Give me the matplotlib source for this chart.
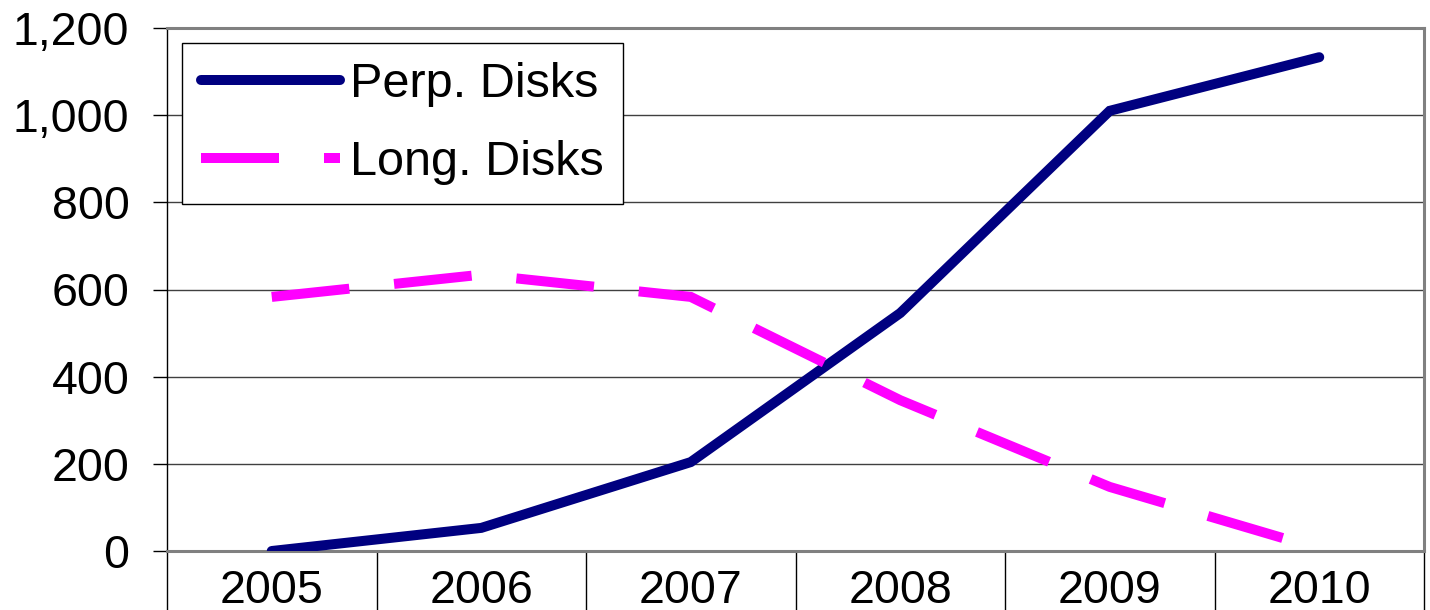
import matplotlib
matplotlib.use('Agg')
from matplotlib import pyplot as plt
from matplotlib.ticker import FixedLocator, FuncFormatter

# data
years = ['2005', '2006', '2007', '2008', '2009', '2010']
perp_disks = [0, 53, 204, 546, 1010, 1133]
long_disks = [583, 634, 583, 346, 147, 5]
y_ticks = [0, 200, 400, 600, 800, 1000, 1200]

plt.rcParams['font.family'] = ['Liberation Sans', 'DejaVu Sans']

fig = plt.figure(figsize=(14.3, 6.1), dpi=100)
# plot area in pixels: left 167, right 1424, top 28, bottom 551
ax = fig.add_axes([167 / 1430, (610 - 551) / 610, (1424 - 167) / 1430, (551 - 28) / 610])

x = list(range(1, len(years) + 1))
ax.plot(x, perp_disks, color='#000080', lw=7.2, solid_capstyle='round',
        solid_joinstyle='miter', label='Perp. Disks', zorder=3)
ax.plot(x, long_disks, color='#FF00FF', lw=7.2, dashes=(7.8, 4.5),
        dash_capstyle='butt', dash_joinstyle='miter', label='Long. Disks', zorder=3)

ax.set_xlim(0.5, len(years) + 0.5)
ax.set_ylim(0, 1200)

# category axis: labels centred, separator ticks between categories
ax.xaxis.set_major_locator(FixedLocator(x))
ax.set_xticklabels(years)
ax.xaxis.set_minor_locator(FixedLocator([i + 0.5 for i in range(len(years) + 1)]))
ax.tick_params(axis='x', which='major', length=0, pad=13, labelsize=33.5)
ax.tick_params(axis='x', which='minor', length=43, width=1, color='black', direction='out')

ax.yaxis.set_major_locator(FixedLocator(y_ticks))
ax.yaxis.set_major_formatter(FuncFormatter(lambda v, p: '{:,.0f}'.format(v)))
ax.tick_params(axis='y', length=10, width=1, color='black', pad=17, labelsize=33.5)

ax.grid(axis='y', color='#404040', lw=1, zorder=1)
ax.set_axisbelow(True)

for side in ['top', 'right', 'bottom']:
    ax.spines[side].set_color('#808080')
    ax.spines[side].set_linewidth(2.2)
ax.spines['left'].set_color('black')
ax.spines['left'].set_linewidth(1)

leg = ax.legend(loc='upper left', bbox_to_anchor=(182 / 1430, 1 - 43 / 610),
                bbox_transform=fig.transFigure, borderaxespad=0, fontsize=35,
                frameon=True, fancybox=False, framealpha=1, edgecolor='black',
                handlelength=2.85, handletextpad=0.2, borderpad=0.4, labelspacing=0.66)
leg.get_frame().set_linewidth(1)

fig.savefig('out.png', dpi=100, facecolor='white')
